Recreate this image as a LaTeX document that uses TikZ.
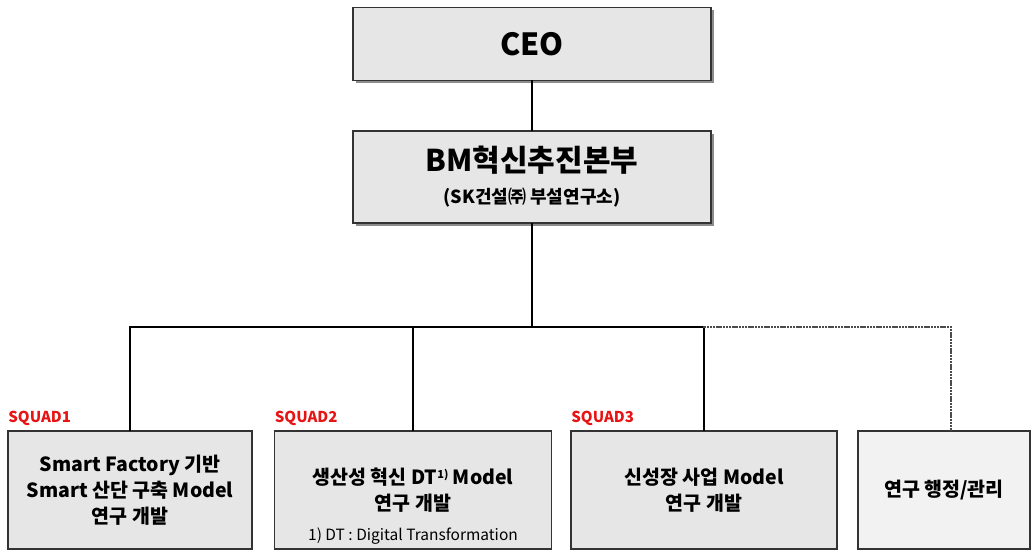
\documentclass[tikz,border=0pt]{standalone}
\usepackage{fontspec}
\setmainfont{Noto Sans CJK KR}
\usepackage{tikz}
\usetikzlibrary{shadows}
\usetikzlibrary{positioning}
\definecolor{boxgray}{RGB}{230,230,230}
\definecolor{lightgray}{RGB}{242,242,242}
\definecolor{squadred}{RGB}{230,20,20}

\begin{document}
\begin{tikzpicture}[x=1pt,y=-1pt,line cap=rect,line join=miter,
  topbox/.style={draw=black!80,line width=1.6pt,fill=boxgray,minimum width=358pt,
    drop shadow={shadow xshift=3pt,shadow yshift=-3pt,fill=black!45,opacity=1}},
  squadbox/.style={draw=black!80,line width=1.6pt,fill=boxgray,minimum height=118pt,
    align=center,font=\bfseries\fontsize{19.5}{26}\selectfont},
  squadlabel/.style={text=squadred,font=\bfseries\fontsize{15}{15}\selectfont,inner sep=0pt,anchor=south west},
  link/.style={line width=1.6pt,black}]
\useasboundingbox (0,0) rectangle (1034,551);
\node[topbox,minimum height=73pt,font=\bfseries\fontsize{30.5}{30}\selectfont] (ceo) at (532,44) {CEO};
\node[topbox,minimum height=92pt,align=center,font=\bfseries\fontsize{30}{34}\selectfont] (bm) at (532,177)
  {BM혁신추진본부\\[-2pt]{\fontsize{18}{20}\selectfont (SK건설㈜ 부설연구소)}};
\node[squadbox,minimum width=244pt] (sq1) at (130,490) {Smart Factory 기반\\Smart 산단 구축 Model\\연구 개발};
\node[squadbox,minimum width=277pt] (sq2) at (413,490) {생산성 혁신 DT\raisebox{6pt}{\fontsize{11}{11}\selectfont 1)} Model\\연구 개발};
\node[font=\fontsize{15.5}{15.5}\selectfont,above=2pt of sq2.south] (note) {1) DT : Digital Transformation};
\node[squadbox,minimum width=266pt] (sq3) at (704,490) {신성장 사업 Model\\연구 개발};
\node[squadbox,minimum width=172pt,fill=lightgray] (sq4) at (944,490) {연구 행정/관리};
\node[squadlabel] (sq1lab) at ([xshift=1pt,yshift=4pt]sq1.north west) {SQUAD1};
\node[squadlabel] (sq2lab) at ([xshift=1pt,yshift=4pt]sq2.north west) {SQUAD2};
\node[squadlabel] (sq3lab) at ([xshift=1pt,yshift=4pt]sq3.north west) {SQUAD3};
\coordinate (bus) at (532,327);
\draw[link] (ceo) -- (bm);
\draw[link] (bm) -- (bus);
\draw[link] (bus) -| (sq1.north);
\draw[link] (bus) -| (sq2.north);
\draw[link] (bus) -| (sq3.north);
\draw[line width=1.2pt,dotted,black!70] (sq3.north |- bus) -| ([xshift=7pt]sq4.north);
\end{tikzpicture}
\end{document}
